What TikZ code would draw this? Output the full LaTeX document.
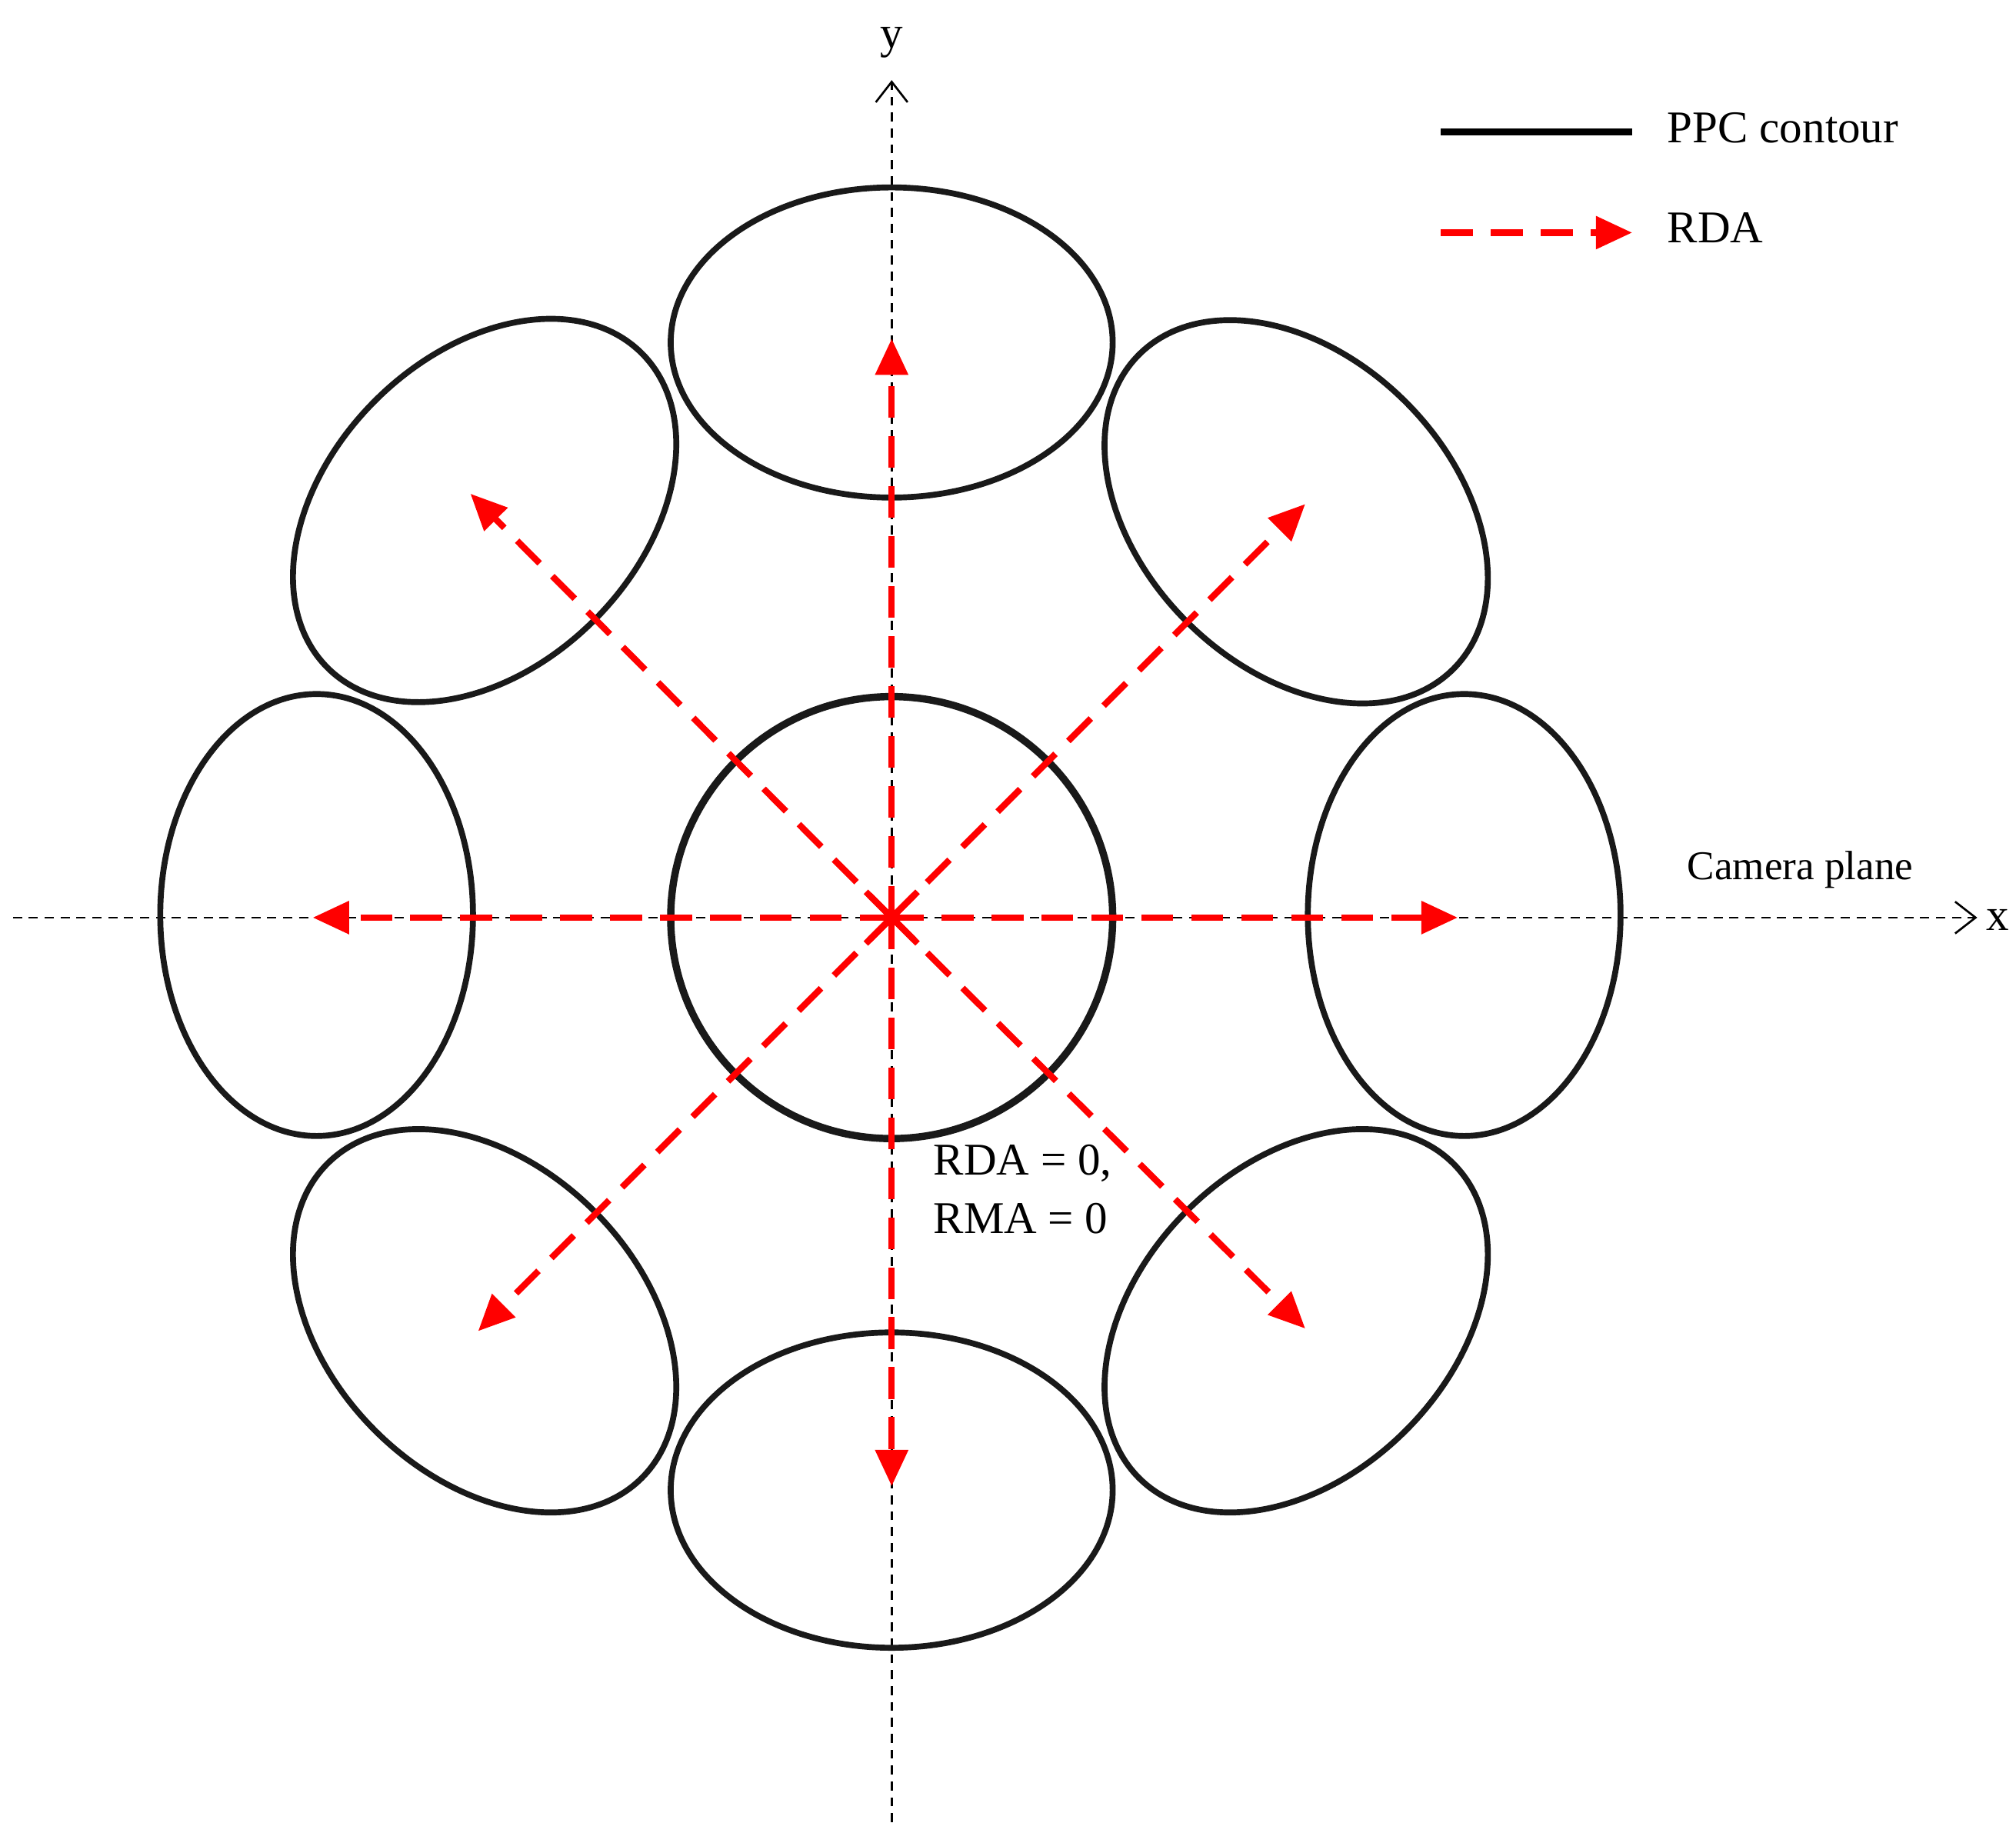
\documentclass[tikz,border=0pt]{standalone}
\usepackage{fontspec}
\setmainfont{Liberation Serif}
\usetikzlibrary{arrows.meta}
\begin{document}
\begin{tikzpicture}[x=0.02cm,y=-0.02cm,
  ax/.style={line width=0.9pt,dash pattern=on 4pt off 3pt,-{Straight Barb[length=9pt,width=14pt,line width=0.9pt]}},
  ppc/.style={line width=2.6pt,black!90},
  rda/.style={red,line width=2.8pt,dash pattern=on 14pt off 8pt,-{Triangle[length=16pt,width=14pt]}},
  lbl/.style={font=\fontsize{20}{22}\selectfont,inner sep=0pt}]
\useasboundingbox (0,0) rectangle (1560,1418);
\coordinate (O) at (690,710);
\coordinate (xs) at (10,710); \coordinate (xe) at (1530,710);
\coordinate (ys) at (690,1410); \coordinate (ye) at (690,62);
\draw[ax] (xs) -- (xe);
\draw[ax] (ys) -- (ye);
\node[lbl,anchor=west] (xl) at (1537,712) {x};
\node[lbl] (yl) at (690,33) {y};
% contours
\draw[ppc,line width=3.2pt] (O) circle (171);
\draw[ppc] (690,265) ellipse (171 and 120);
\draw[ppc] (690,1153) ellipse (171 and 122);
\draw[ppc] (245,708) ellipse (121 and 171);
\draw[ppc] (1133,708) ellipse (121 and 171);
\draw[ppc] (375,395) ellipse[x radius=120,y radius=172,rotate=-45];
\draw[ppc] (1003,396) ellipse[x radius=120,y radius=172,rotate=45];
\draw[ppc] (375,1022) ellipse[x radius=120,y radius=172,rotate=45];
\draw[ppc] (1003,1022) ellipse[x radius=120,y radius=172,rotate=-45];
% RDA arrows
\foreach \p in {(690,262),(690,1150),(242,710),(1128,710),(364,382),(1010,390),(370,1030),(1010,1028)}
  \draw[rda] (O) -- \p;
\draw[red,line width=2.8pt] (670,690) -- (710,730) (670,730) -- (710,690);
% texts
\node[lbl,anchor=west] (rd) at (722,900) {RDA = 0,};
\node[lbl,anchor=west] (rm) at (722,943) {RMA = 0};
\node[lbl,font=\fontsize{18}{20}\selectfont] (cp) at (1393,673) {Camera plane};
% legend
\coordinate (l1a) at (1115,102); \coordinate (l1b) at (1263,102);
\coordinate (l2a) at (1115,180); \coordinate (l2b) at (1263,180);
\draw[black,line width=3pt] (l1a) -- (l1b);
\draw[rda] (l2a) -- (l2b);
\node[lbl,anchor=west] (t1) at (1290,99) {PPC contour};
\node[lbl,anchor=west] (t2) at (1290,176) {RDA};
\end{tikzpicture}
\end{document}
